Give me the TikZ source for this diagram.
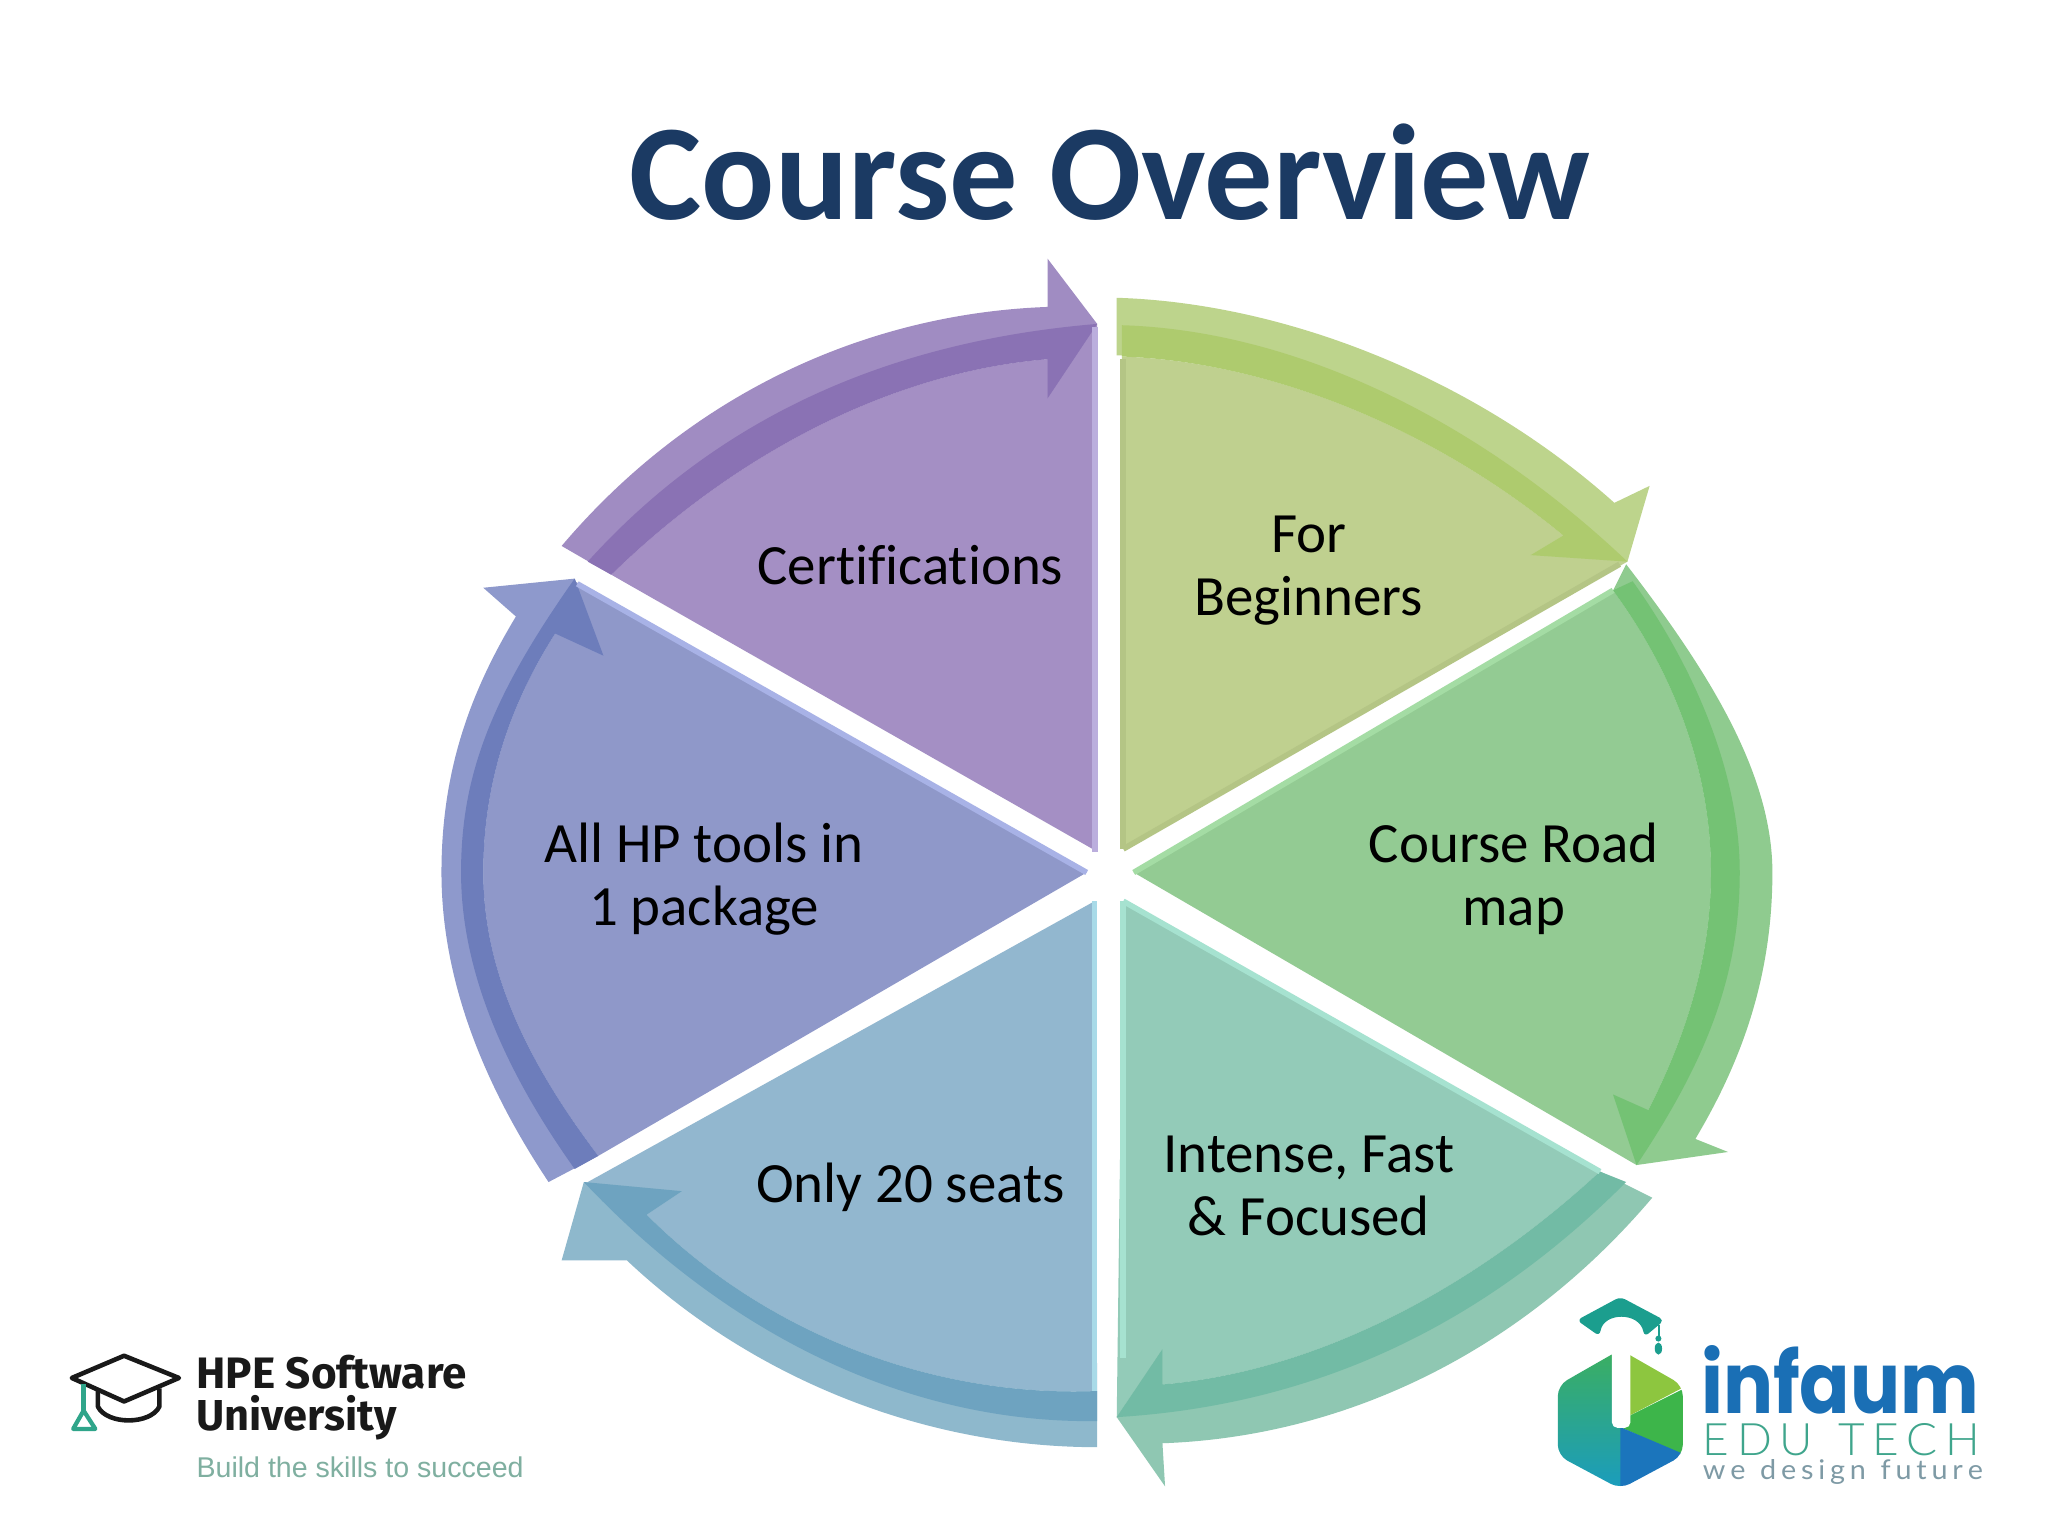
\documentclass[tikz,border=0pt]{standalone}
\usepackage{fontspec}
\usepackage{graphicx}
\setmainfont[Ligatures=NoCommon]{Carlito}
\newfontfamily\hpefont{Fira Sans}
\newfontfamily\tagfont{Liberation Sans}
\newfontfamily\infafont{Poppins}
\newfontfamily\edufont[UprightFont={* Light}]{Lato}
\newfontfamily\wefont{Lato}
\definecolor{titleblue}{HTML}{1B3A63}
\definecolor{yB}{HTML}{BFD08F}\definecolor{yA}{HTML}{BDD48C}\definecolor{yD}{HTML}{AECB6E}\definecolor{yE}{HTML}{B4C585}
\definecolor{gB}{HTML}{93CB93}\definecolor{gA}{HTML}{8FCB8F}\definecolor{gD}{HTML}{74C274}\definecolor{gE}{HTML}{A4DCA4}
\definecolor{tB}{HTML}{93CBB8}\definecolor{tA}{HTML}{8FC7B2}\definecolor{tD}{HTML}{72BBA5}\definecolor{tE}{HTML}{A6E2D0}
\definecolor{bB}{HTML}{92B7CF}\definecolor{bA}{HTML}{8EB8CC}\definecolor{bD}{HTML}{6EA3C0}\definecolor{bE}{HTML}{A8DAE8}
\definecolor{pB}{HTML}{8F98C9}\definecolor{pA}{HTML}{8E99CC}\definecolor{pD}{HTML}{6D7DBB}\definecolor{pE}{HTML}{A8B2E6}
\definecolor{vB}{HTML}{A48FC4}\definecolor{vA}{HTML}{A08CC2}\definecolor{vD}{HTML}{8A72B4}\definecolor{vE}{HTML}{BBAEDD}
\definecolor{hexA}{HTML}{3CAF5E}\definecolor{hexB}{HTML}{8DC63F}\definecolor{hexC}{HTML}{3DB54A}
\definecolor{hexD}{HTML}{1B75BC}\definecolor{hexE}{HTML}{1A9CBF}\definecolor{hexF}{HTML}{1FAE9A}
\definecolor{capteal}{HTML}{1B9E8E}\definecolor{infablue}{HTML}{1A6FB5}\definecolor{edugreen}{HTML}{3FA58C}
\definecolor{tagc}{HTML}{7FAFA0}\definecolor{tassel}{HTML}{2FA58A}\definecolor{wegray}{HTML}{7E9AA5}
\tikzset{
  lab/.style={align=center,font=\fontsize{16.2pt}{17.8pt}\selectfont,text=black,inner sep=0pt},
  edgeline/.style={line width=1.6pt,line cap=butt}
}
\begin{document}
\begin{tikzpicture}[x=0.0130612cm,y=-0.0130612cm]
\useasboundingbox (0,0) rectangle (1568,1176);
\fill[white] (0,0) rectangle (1568,1176);

\node[font=\fontsize{38.8pt}{42pt}\selectfont\bfseries,text=titleblue,inner sep=0pt] (title) at (850,132) {Course Overview};

% For Beginners
\fill[yB] (860,650) -- (859,273) .. controls (975,277) and (1100,330) .. (1197,410) -- (1246,430) -- cycle;
\fill[yA] (855,228) .. controls (985,232) and (1130,290) .. (1236,385) -- (1263,372) -- (1246,430) -- (1172,425) -- (1197,410) .. controls (1100,330) and (975,277) .. (855,272) -- cycle;
\fill[yD] (859,249) .. controls (990,253) and (1130,320) .. (1246,430) -- (1172,425) -- (1197,410) .. controls (1100,330) and (975,277) .. (859,273) -- cycle;
\draw[yE,edgeline] (860,650) -- (860,275);
\draw[yE,edgeline] (860,650) -- (1240,432);

% Course Road map
\fill[gB] (868,668) -- (1235,452) .. controls (1285,520) and (1310,595) .. (1310,668) .. controls (1310,735) and (1290,795) .. (1262,850) -- (1253,892) -- cycle;
\fill[gA] (1245,432) .. controls (1305,510) and (1357,590) .. (1357,668) .. controls (1357,750) and (1332,815) .. (1298,872) -- (1323,882) -- (1253,892) -- (1235,838) -- (1262,850) .. controls (1290,795) and (1310,735) .. (1310,668) .. controls (1310,595) and (1285,520) .. (1235,452) -- cycle;
\fill[gD] (1250,445) .. controls (1300,515) and (1332,595) .. (1332,668) .. controls (1332,745) and (1308,810) .. (1253,892) -- (1235,838) -- (1262,850) .. controls (1290,795) and (1310,735) .. (1310,668) .. controls (1310,595) and (1285,520) .. (1235,452) -- cycle;
\draw[gE,edgeline] (868,668) -- (1235,452);

% Intense, Fast & Focused
\fill[tB] (860,690) -- (1225,897) .. controls (1130,985) and (1010,1050) .. (890,1060) -- (855,1085) -- cycle;
\fill[tA] (1265,917) .. controls (1165,1035) and (1030,1100) .. (890,1105) -- (892,1138) -- (855,1085) -- (890,1033) -- (890,1060) .. controls (1010,1050) and (1130,985) .. (1225,897) -- cycle;
\fill[tD] (1245,905) .. controls (1145,1005) and (1020,1075) .. (855,1085) -- (890,1033) -- (890,1060) .. controls (1010,1050) and (1130,985) .. (1225,897) -- cycle;
\draw[tE,edgeline] (860,690) -- (860,1040);
\draw[tE,edgeline] (860,690) -- (1225,897);

% Only 20 seats
\fill[bB] (838,690) -- (840,1065) .. controls (720,1070) and (590,1025) .. (495,930) -- (450,905) -- cycle;
\fill[bA] (840,1108) .. controls (700,1108) and (570,1050) .. (480,965) -- (430,965) -- (447,905) -- (522,912) -- (495,930) .. controls (590,1025) and (720,1070) .. (840,1065) -- cycle;
\fill[bD] (840,1088) .. controls (705,1090) and (565,1030) .. (447,905) -- (522,912) -- (495,930) .. controls (590,1025) and (720,1070) .. (840,1065) -- cycle;
\draw[bE,edgeline] (838,690) -- (838,1065);

% All HP tools in 1 package
\fill[pB] (832,668) -- (440,445) -- (425,485) .. controls (390,540) and (370,600) .. (370,668) .. controls (370,745) and (405,815) .. (458,885) -- cycle;
\fill[pA] (420,905) .. controls (370,830) and (338,750) .. (338,668) .. controls (338,590) and (360,530) .. (395,472) -- (370,450) -- (440,443) -- (462,502) -- (425,485) .. controls (390,540) and (370,600) .. (370,668) .. controls (370,745) and (405,815) .. (458,885) -- cycle;
\fill[pD] (440,895) .. controls (388,822) and (353,745) .. (353,668) .. controls (353,595) and (375,535) .. (440,443) -- (462,502) -- (425,485) .. controls (390,540) and (370,600) .. (370,668) .. controls (370,745) and (405,815) .. (458,885) -- cycle;
\draw[pE,edgeline] (832,668) -- (442,447);

% Certifications
\fill[vB] (840,652) -- (468,440) .. controls (560,350) and (680,285) .. (802,275) -- (840,248) -- cycle;
\fill[vA] (430,418) .. controls (530,300) and (665,240) .. (802,235) -- (802,198) -- (840,248) -- (802,305) -- (802,275) .. controls (680,285) and (560,350) .. (468,440) -- cycle;
\fill[vD] (450,430) .. controls (545,325) and (672,262) .. (840,248) -- (802,305) -- (802,275) .. controls (680,285) and (560,350) .. (468,440) -- cycle;
\draw[vE,edgeline] (838.5,652) -- (838.5,250);

% Labels
\node[lab] (n1) at (1002,437) {For\\Beginners};
\node[lab] (n2) at (1159,673) {Course Road\\map};
\node[lab] (n3) at (1002,908) {Intense, Fast\\\& Focused};
\node[lab] (n4) at (697,909) {Only 20 seats};
\node[lab] (n5) at (539,673) {All HP tools in\\1 package};
\node[lab] (n6) at (697,433) {Certifications};

% HPE logo
\draw[black!90,line width=1.3pt,line join=round] (55,1055) -- (95,1038) -- (137,1055) -- (95,1073) -- cycle;
\draw[black!90,line width=1.3pt,line join=round] (75,1065) -- (75,1077) .. controls (82,1091) and (115,1091) .. (122,1077) -- (122,1063);
\draw[tassel,line width=1.3pt] (64,1060) -- (64,1082);
\draw[tassel,line width=1.2pt,line join=round] (56,1094) -- (64,1080) -- (73,1094) -- cycle;
\node[anchor=base west,inner sep=0pt,text=black!90] (hpe1) at (150,1063) {\resizebox{2.70cm}{!}{\hpefont\bfseries HPE Software}};
\node[anchor=base west,inner sep=0pt,text=black!90] (hpe2) at (150,1095) {\resizebox{2.00cm}{!}{\hpefont\bfseries University}};
\node[anchor=base west,inner sep=0pt,text=tagc] (hpe3) at (150,1131) {\resizebox{3.27cm}{!}{\tagfont Build the skills to succeed}};

% infaum logo
\begin{scope}[shift={(1163.8,972.4)},x=0.0033345cm,y=-0.0033345cm]
  \begin{scope}
    \clip[rounded corners=3pt] (300,238) -- (487,345) -- (487,555) -- (300,655) -- (113,555) -- (113,345) -- cycle;
    \shade[top color=hexA,middle color=hexF,bottom color=hexE] (100,230) rectangle (300,660);
    \fill[hexB] (300,200) -- (500,200) -- (500,345) -- (300,450) -- cycle;
    \fill[hexC] (500,350) -- (300,450) -- (300,470) -- (500,560) -- cycle;
    \fill[hexD] (300,470) -- (500,555) -- (500,670) -- (300,670) -- cycle;
  \end{scope}
  \fill[white,rounded corners=1.5pt] (275,220) rectangle (330,472);
  \fill[capteal,rounded corners=1.5pt] (300,80) -- (432,150) -- (372,200) .. controls (358,125) and (250,125) .. (238,198) -- (170,150) -- cycle;
  \draw[capteal,line width=0.6pt] (415,165) -- (415,205);
  \fill[capteal] (414,235) ellipse (11 and 18);
  \fill[capteal] (414,205) circle (9);
  \node[anchor=base west,inner sep=0pt,text=infablue] (inf1) at (540,430) {\resizebox{2.78cm}{0.68cm}{\infafont\bfseries infaum}};
  \node[anchor=base west,inner sep=0pt,text=edugreen] (inf2) at (545,555) {\resizebox{2.77cm}{0.32cm}{\edufont E\,D\,U\ \ T\,E\,C\,H}};
  \node[anchor=base west,inner sep=0pt,text=wegray] (inf3) at (545,628) {\resizebox{2.8cm}{0.2cm}{\wefont w\,e\ \ d\,e\,s\,i\,g\,n\ \ f\,u\,t\,u\,r\,e}};
\end{scope}
\end{tikzpicture}
\end{document}
